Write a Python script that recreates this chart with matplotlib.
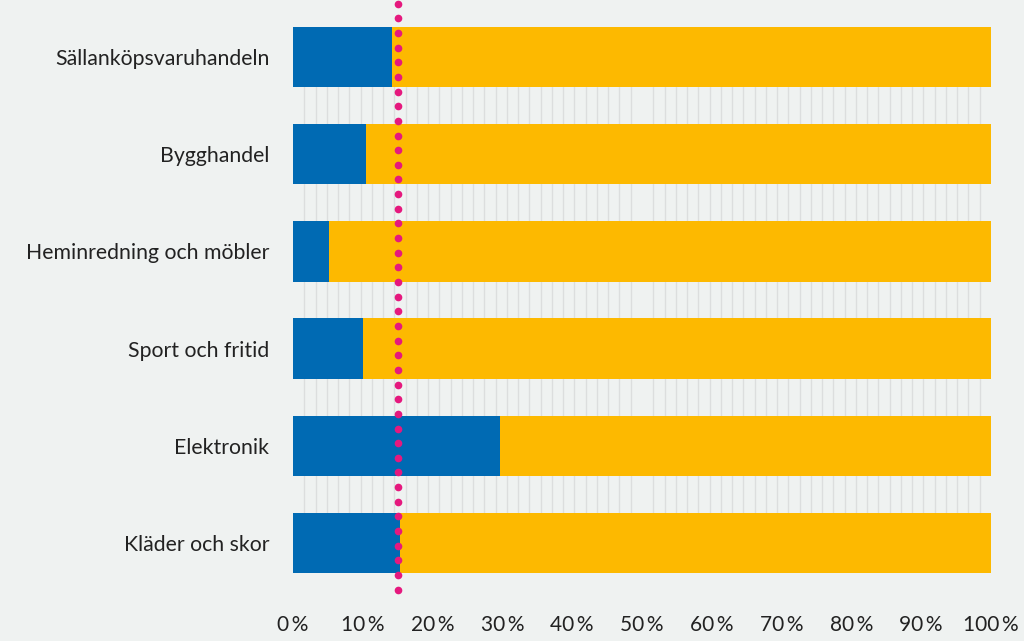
import numpy as np
import matplotlib
matplotlib.use("Agg")
import matplotlib.pyplot as plt

plt.rcParams['font.family'] = ['Lato', 'DejaVu Sans']

# data (share in percent)
categories = ["Sällanköpsvaruhandeln", "Bygghandel", "Heminredning och möbler",
              "Sport och fritid", "Elektronik", "Kläder och skor"]
blue_share = [14.2, 10.5, 5.2, 10.1, 29.7, 15.4]
yellow_share = [100 - v for v in blue_share]
reference_line = 15
xtick_values = list(range(0, 101, 10))
xtick_labels = [f"{v}\u2009%" for v in xtick_values]

bg = "#eff2f1"
blue = "#006ab3"
yellow = "#fdb900"
magenta = "#e5197e"

fig = plt.figure(figsize=(10.24, 6.41), dpi=100, facecolor=bg)
ax = fig.add_axes([293/1024, 1 - 573/641, (991 - 293)/1024, (573 - 27)/641])
ax.set_facecolor(bg)

y = np.arange(len(categories))
h = 0.62
ax.barh(y, blue_share, height=h, color=blue, zorder=2)
ax.barh(y, yellow_share, left=blue_share, height=h, color=yellow, zorder=2)

ax.set_xlim(0, 100)
ax.set_ylim(len(categories) - 1 + h/2, -h/2)

# thin vertical gridlines
ax.set_xticks(np.linspace(0, 100, 63), minor=True)
ax.grid(which='minor', axis='x', color="#dcdede", linewidth=1, zorder=0)
ax.grid(which='major', visible=False)
ax.tick_params(which='minor', length=0)

ax.set_xticks(xtick_values)
ax.set_xticklabels(xtick_labels, fontsize=15, color="#222222")
ax.set_yticks(y)
ax.set_yticklabels(categories, fontsize=15.3, color="#222222")
ax.tick_params(axis='x', length=0, pad=30)
ax.tick_params(axis='y', length=0, pad=17)
for s in ax.spines.values():
    s.set_visible(False)

# dotted reference line as round dots, reaching outside the bars
px_per_unit = 546 / (len(categories) - 1 + h)
dot_y = np.arange(-h/2 - 0.24, len(categories) - 1 + h/2 + 0.22, 14.65 / px_per_unit)
ax.plot(np.full(len(dot_y), reference_line), dot_y, linestyle='none', marker='o',
        markersize=5.5, color=magenta, markeredgewidth=0, clip_on=False, zorder=3)

fig.savefig("out.png", dpi=100, facecolor=bg)
